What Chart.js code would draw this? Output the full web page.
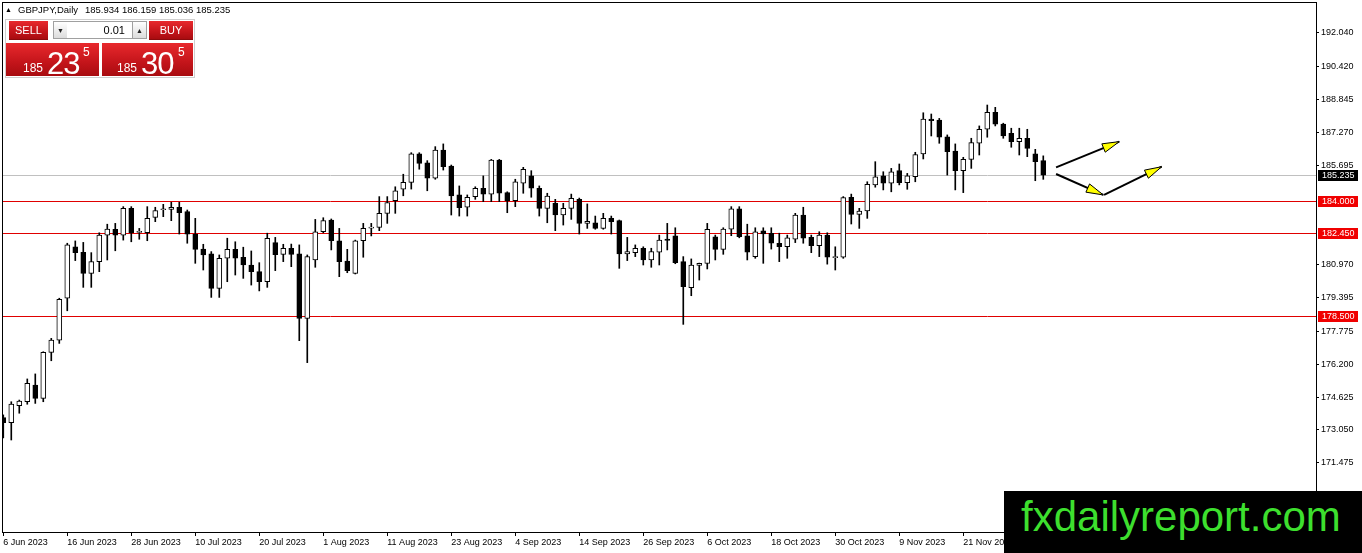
<!DOCTYPE html>
<html>
<head>
<meta charset="utf-8">
<title>GBPJPY Daily</title>
<script src="https://cdn.jsdelivr.net/npm/chart.js@4.4.0/dist/chart.umd.min.js"></script>
<style>
  html, body { margin: 0; padding: 0; background: #fff; }
  #wrap { position: relative; width: 1362px; height: 553px; overflow: hidden; font-family: "Liberation Sans", Arial, sans-serif; }
  #chart { position: absolute; left: 0; top: 0; }
  .hdr { position: absolute; top: 5px; font-size: 9.5px; line-height: 9px; color: #000; white-space: nowrap; }
  .abs { position: absolute; box-sizing: border-box; }
  .red { background: linear-gradient(#e8292d, #c3141a 60%, #a80c10); color: #fff; }
  .btn { top: 21px; height: 19px; font-size: 11px; line-height: 19px; text-align: center; border-bottom: 1px solid #8c0a0d; }
  .spin { top: 21px; height: 18px; font-size: 7px; line-height: 17px; text-align: center; color: #222;
          background: linear-gradient(#ffffff, #dcdcdc); border: 1px solid #a0a0a0; }
  .quote { top: 43px; height: 33px; }
  .quote span { position: absolute; white-space: nowrap; }
  .small { font-size: 12px; top: 18px; }
  .big { font-size: 31px; top: 3px; letter-spacing: -1px; }
  .pip { font-size: 12px; top: 2px; }
  #wm { left: 1004px; top: 491px; width: 358px; height: 62px; background: #000; }
  #wm span { position: absolute; left: 17px; top: 5px; font-size: 42px; line-height: 42px; color: #3ddf2e; white-space: nowrap; }
</style>
</head>
<body>
<div id="wrap">
  <canvas id="chart" width="1362" height="553"></canvas>

  <div class="hdr" style="left:5px;font-size:7px;">&#9650;</div>
  <div class="hdr" style="left:18px;">GBPJPY,Daily</div>
  <div class="hdr" style="left:85px;">185.934 186.159 185.036 185.235</div>

  <div class="abs" style="left:5px;top:19px;width:190px;height:59px;background:#fff;border:1px solid #cfcfcf;"></div>
  <div class="abs btn red" style="left:9px;width:39px;">SELL</div>
  <div class="abs spin" style="left:53px;width:15px;">&#9660;</div>
  <div class="abs" style="left:67px;top:21px;width:66px;height:18px;border-top:1px solid #a0a0a0;border-bottom:1px solid #a0a0a0;font-size:11px;line-height:16px;text-align:right;padding-right:8px;background:#fff;">0.01</div>
  <div class="abs spin" style="left:132px;width:15px;">&#9650;</div>
  <div class="abs btn red" style="left:149px;width:44px;">BUY</div>
  <div class="abs quote red" style="left:6px;width:93px;">
    <span class="small" style="left:17px;">185</span>
    <span class="big" style="left:41px;">23</span>
    <span class="pip" style="left:77px;">5</span>
  </div>
  <div class="abs quote red" style="left:102px;width:91px;">
    <span class="small" style="left:15px;">185</span>
    <span class="big" style="left:39px;">30</span>
    <span class="pip" style="left:76px;">5</span>
  </div>

  <div id="wm" class="abs"><span>fxdailyreport.com</span></div>
</div>

<script>
// GBPJPY daily candles, 6 Jun 2023 .. 5 Dec 2023 (one entry per trading day)
const opens = [
  173.64, 173.40, 174.21, 174.40, 175.20, 174.56, 176.76, 177.34, 179.35, 181.81,
  181.55, 180.54, 181.10, 182.37, 182.65, 182.37, 183.65, 182.50, 182.48, 183.22,
  183.58, 183.60, 183.70, 183.49, 182.41, 181.70, 181.47, 179.82, 181.26, 181.69,
  181.31, 180.94, 180.62, 180.14, 182.01, 181.45, 181.74, 181.47, 178.39, 181.18,
  182.53, 183.09, 182.10, 181.13, 180.54, 182.10, 182.70, 182.74, 183.41, 184.01,
  184.56, 184.89, 186.25, 185.83, 185.09, 186.44, 185.67, 184.29, 183.70, 184.21,
  184.61, 184.33, 185.96, 184.40, 184.01, 184.85, 185.20, 184.61, 183.65, 183.89,
  183.33, 183.65, 184.08, 182.93, 182.96, 182.69, 183.17, 183.06, 181.47, 181.53,
  181.74, 181.18, 181.55, 182.18, 182.33, 181.10, 179.85, 180.92, 181.02, 182.29,
  181.69, 182.65, 183.62, 182.33, 181.34, 182.57, 182.45, 181.98, 181.81, 182.17,
  183.33, 182.26, 181.86, 182.37, 181.29, 181.31, 184.18, 183.36, 183.52, 184.77,
  185.20, 184.85, 185.45, 184.88, 185.16, 186.25, 187.92, 187.87, 187.07, 186.39,
  185.45, 185.99, 186.76, 187.43, 188.24, 187.68, 187.24, 186.84, 187.00, 186.25,
  185.934
];
const highs = [
  173.77, 174.40, 174.48, 175.49, 175.73, 176.79, 177.43, 179.35, 181.98, 182.09,
  182.02, 181.53, 182.48, 182.89, 182.93, 183.73, 183.73, 182.69, 183.73, 183.70,
  183.84, 183.94, 183.94, 183.57, 183.17, 181.93, 181.58, 181.42, 182.22, 182.05,
  181.79, 181.61, 181.05, 182.46, 182.26, 181.93, 181.94, 181.90, 181.42, 183.12,
  183.20, 183.14, 182.69, 181.69, 182.13, 182.93, 182.93, 184.21, 184.21, 184.68,
  185.28, 186.31, 186.31, 185.93, 186.60, 186.73, 185.72, 184.72, 184.29, 184.68,
  185.20, 185.99, 185.99, 184.44, 185.04, 185.61, 185.45, 184.72, 184.37, 184.08,
  183.89, 184.33, 184.14, 183.86, 183.28, 183.41, 183.28, 183.09, 182.26, 181.90,
  181.81, 181.74, 182.37, 182.93, 182.72, 181.34, 181.23, 181.03, 182.93, 182.37,
  182.72, 183.73, 183.73, 182.89, 182.72, 182.72, 182.72, 182.46, 182.37, 183.41,
  183.70, 182.37, 182.53, 182.48, 181.81, 184.21, 184.33, 183.65, 184.92, 185.88,
  185.40, 185.56, 185.77, 185.32, 186.33, 188.22, 188.16, 187.95, 187.16, 186.73,
  186.09, 187.00, 187.59, 188.59, 188.48, 187.72, 187.48, 187.48, 187.43, 186.47,
  186.159
];
const lows = [
  172.67, 172.57, 173.85, 174.28, 174.32, 174.40, 176.36, 177.19, 178.75, 181.15,
  179.87, 179.87, 180.62, 181.18, 181.62, 182.13, 182.05, 182.17, 182.10, 183.01,
  183.25, 183.06, 182.42, 181.98, 181.02, 180.70, 179.39, 179.39, 180.14, 180.46,
  180.30, 179.98, 179.70, 179.87, 180.67, 181.10, 180.86, 177.32, 176.27, 180.83,
  182.48, 181.66, 180.38, 180.57, 180.51, 181.31, 182.33, 182.58, 182.93, 183.41,
  184.25, 184.57, 185.52, 184.49, 185.04, 185.48, 183.33, 183.28, 183.28, 184.08,
  183.97, 183.97, 183.97, 183.44, 183.73, 184.37, 184.18, 183.28, 182.96, 182.58,
  182.85, 183.12, 182.42, 182.69, 182.65, 182.65, 182.42, 180.78, 181.15, 181.34,
  180.94, 180.83, 180.94, 181.66, 181.00, 178.10, 179.47, 180.22, 180.75, 181.18,
  181.45, 182.34, 182.24, 181.18, 181.26, 181.02, 181.70, 181.10, 181.26, 182.01,
  181.98, 181.53, 181.34, 180.98, 180.70, 181.26, 182.90, 182.69, 183.17, 184.66,
  184.53, 184.44, 184.77, 184.56, 184.92, 186.01, 187.11, 186.76, 185.24, 184.53,
  184.40, 185.56, 186.20, 187.05, 187.59, 187.00, 186.57, 186.20, 186.12, 184.97,
  185.036
];
const closes = [
  173.40, 174.29, 174.43, 175.28, 174.56, 176.76, 177.35, 179.30, 181.90, 181.53,
  180.54, 181.10, 182.37, 182.66, 182.37, 183.65, 182.48, 182.55, 183.17, 183.54,
  183.62, 183.70, 183.44, 182.41, 181.69, 181.42, 179.82, 181.26, 181.69, 181.26,
  180.94, 180.62, 180.14, 182.22, 181.43, 181.74, 181.45, 178.39, 181.34, 182.53,
  183.06, 182.10, 181.10, 180.67, 182.09, 182.69, 182.75, 183.41, 183.92, 184.49,
  184.89, 186.25, 185.80, 185.09, 186.44, 185.64, 184.24, 183.68, 184.18, 184.61,
  184.33, 185.96, 184.37, 184.01, 184.92, 185.52, 184.61, 183.65, 184.24, 183.33,
  183.65, 184.13, 182.93, 183.03, 182.69, 183.17, 183.01, 181.47, 181.58, 181.74,
  181.18, 181.58, 182.13, 182.12, 181.05, 179.90, 180.94, 181.02, 182.65, 181.69,
  182.66, 183.62, 182.29, 181.55, 182.53, 182.42, 181.98, 181.81, 182.24, 183.33,
  182.22, 181.86, 182.37, 181.31, 181.33, 184.16, 183.36, 183.52, 184.80, 185.16,
  184.85, 185.40, 184.88, 185.20, 186.22, 187.92, 187.84, 187.05, 186.36, 185.45,
  185.99, 186.79, 187.43, 188.24, 187.68, 187.11, 186.84, 187.00, 186.52, 185.88,
  185.235
];

// one date label every 8 bars
const dateTicks = [
  '6 Jun 2023', '16 Jun 2023', '28 Jun 2023', '10 Jul 2023', '20 Jul 2023', '1 Aug 2023',
  '11 Aug 2023', '23 Aug 2023', '4 Sep 2023', '14 Sep 2023', '26 Sep 2023', '6 Oct 2023',
  '18 Oct 2023', '30 Oct 2023', '9 Nov 2023', '21 Nov 2023', '1 Dec 2023'
];
const priceTicks = [192.040, 190.420, 188.845, 187.270, 185.695, 180.970, 179.395,
                    177.775, 176.200, 174.625, 173.050, 171.475];
const levels = [184.000, 182.450, 178.500];
const lastPrice = 185.235;
// hand-drawn arrows: [bar, price] -> [bar, price]
const arrows = [
  [[131.6, 185.61], [139.5, 186.84]],
  [[131.6, 185.29], [137.5, 184.29]],
  [[137.6, 184.29], [144.8, 185.64]]
];

const font = { family: 'Liberation Sans', size: 9 };

function drawArrow(ctx, x0, y0, x1, y1) {
  ctx.strokeStyle = '#000';
  ctx.lineWidth = 2;
  ctx.beginPath(); ctx.moveTo(x0, y0); ctx.lineTo(x1, y1); ctx.stroke();
  const a = Math.atan2(y1 - y0, x1 - x0);
  const len = 17, half = 4.5;
  const bx = x1 - Math.cos(a) * len, by = y1 - Math.sin(a) * len;
  ctx.beginPath();
  ctx.moveTo(x1, y1);
  ctx.lineTo(bx + Math.sin(a) * half, by - Math.cos(a) * half);
  ctx.lineTo(bx - Math.sin(a) * half, by + Math.cos(a) * half);
  ctx.closePath();
  ctx.fillStyle = '#ffff00';
  ctx.fill();
  ctx.lineWidth = 1;
  ctx.stroke();
}

function priceBox(ctx, y, value, bg, right) {
  const py = y.getPixelForValue(value);
  ctx.fillStyle = bg;
  ctx.fillRect(right + 2, Math.round(py) - 5, 40, 11);
  ctx.fillStyle = '#fff';
  ctx.font = '9px "Liberation Sans"';
  ctx.textBaseline = 'middle';
  ctx.textAlign = 'left';
  ctx.fillText(value.toFixed(3), right + 6, Math.round(py) + 0.5);
}

const overlay = {
  id: 'overlay',
  beforeDatasetsDraw(chart) {
    const { ctx, chartArea: a, scales: { y } } = chart;
    ctx.save();
    ctx.lineWidth = 1;
    let py = Math.round(y.getPixelForValue(lastPrice)) + 0.5;
    ctx.strokeStyle = '#c0c0c0';
    ctx.beginPath(); ctx.moveTo(a.left, py); ctx.lineTo(a.right, py); ctx.stroke();
    ctx.strokeStyle = '#e00000';
    levels.forEach(v => {
      py = Math.round(y.getPixelForValue(v)) + 0.5;
      ctx.beginPath(); ctx.moveTo(a.left, py); ctx.lineTo(a.right, py); ctx.stroke();
    });
    ctx.restore();
  },
  afterDraw(chart) {
    const { ctx, chartArea: a, scales: { x, y } } = chart;
    ctx.save();
    ctx.strokeStyle = '#000';
    ctx.lineWidth = 1;
    ctx.strokeRect(a.left + 0.5, a.top + 0.5, a.right - a.left, a.bottom - a.top);
    arrows.forEach(([p0, p1]) => {
      drawArrow(ctx, x.getPixelForValue(p0[0]), y.getPixelForValue(p0[1]),
                     x.getPixelForValue(p1[0]), y.getPixelForValue(p1[1]));
    });
    priceBox(ctx, y, lastPrice, '#000', a.right);
    levels.forEach(v => priceBox(ctx, y, v, '#f00000', a.right));
    ctx.restore();
  }
};

function noPad(s) {
  s.paddingTop = 0; s.paddingBottom = 0; s.paddingLeft = 0; s.paddingRight = 0;
}

const bars = opens.map((o, i) => i);
new Chart(document.getElementById('chart'), {
  type: 'bar',
  data: {
    datasets: [
      {
        label: 'body',
        data: bars.map(i => ({ x: i, y: [opens[i], closes[i]] })),
        backgroundColor: bars.map(i => closes[i] >= opens[i] ? '#ffffff' : '#000000'),
        borderColor: '#000',
        borderWidth: 1,
        borderSkipped: false,
        barThickness: 5,
        minBarLength: 1,
        grouped: false,
        order: 1
      },
      {
        label: 'wick',
        data: bars.map(i => ({ x: i, y: [lows[i], highs[i]] })),
        backgroundColor: '#000',
        barThickness: 1,
        grouped: false,
        order: 2
      }
    ]
  },
  options: {
    responsive: false,
    animation: false,
    events: [],
    layout: { padding: { left: 2, top: 2 } },
    plugins: { legend: { display: false }, tooltip: { enabled: false } },
    scales: {
      x: {
        type: 'linear', min: -0.16, max: 164.09, offset: false,
        afterFit(s) { s.height = 21; noPad(s); },
        afterBuildTicks(s) { s.ticks = dateTicks.map((_, k) => ({ value: k * 8 })); },
        ticks: { callback: (v, k) => dateTicks[k], align: 'start', maxRotation: 0, autoSkip: false,
                 padding: 1, font, color: '#000' },
        grid: { offset: false, drawOnChartArea: false, tickLength: 4, color: '#000' },
        border: { display: true, color: '#000' }
      },
      y: {
        position: 'right', min: 168.17, max: 193.517,
        afterFit(s) { s.width = 46; noPad(s); },
        afterBuildTicks(s) { s.ticks = priceTicks.map(v => ({ value: v })); },
        ticks: { callback: v => v.toFixed(3), autoSkip: false, padding: 2, font, color: '#000' },
        grid: { drawOnChartArea: false, tickLength: 3, color: '#000' },
        border: { display: true, color: '#000' }
      }
    }
  },
  plugins: [overlay]
});
</script>
</body>
</html>
